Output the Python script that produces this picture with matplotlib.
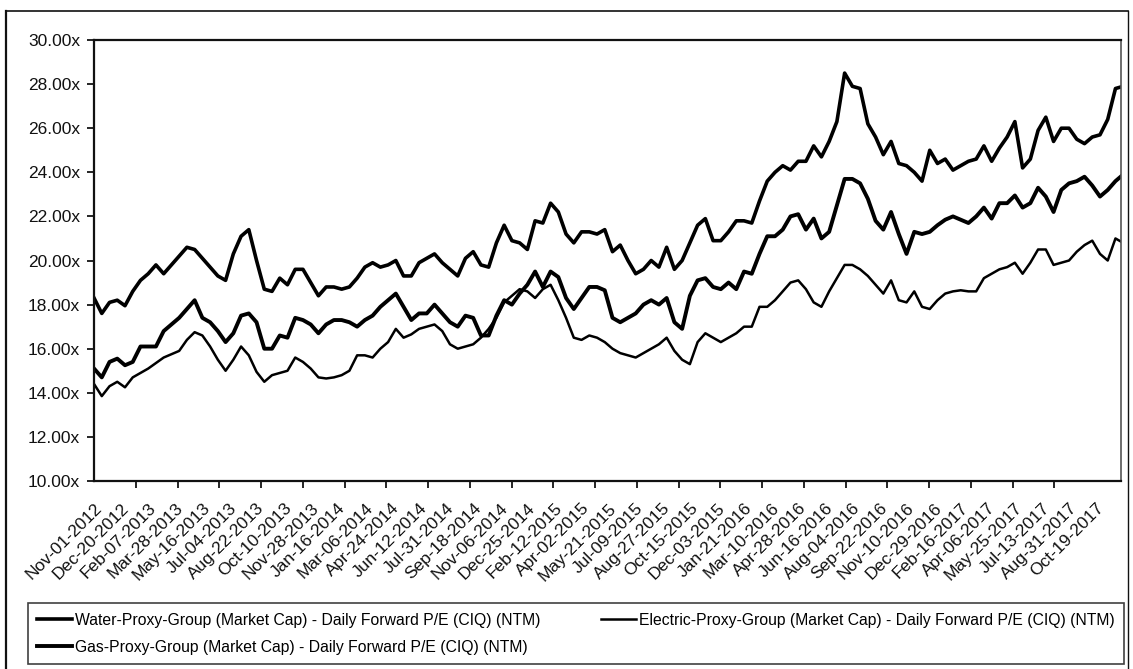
#!/usr/bin/env python3
"""Daily forward P/E (NTM) for the water, electric and gas proxy groups."""

from __future__ import annotations

import matplotlib

matplotlib.use("Agg")
import matplotlib.dates as mdates
import matplotlib.pyplot as plt
import numpy as np
import pandas as pd
from matplotlib.lines import Line2D

# biweekly readings, starting Nov-01-2012
sample_start = "2012-11-01"
sample_step = "14D"

water_pe = [
    18.3, 17.6, 18.1, 18.2, 17.95, 18.6, 19.1, 19.4, 19.8, 19.4,
    19.8, 20.2, 20.6, 20.5, 20.1, 19.7, 19.3, 19.1, 20.3, 21.1,
    21.4, 20.0, 18.7, 18.6, 19.2, 18.9, 19.6, 19.6, 19.0, 18.4,
    18.8, 18.8, 18.7, 18.8, 19.2, 19.7, 19.9, 19.7, 19.8, 20.0,
    19.3, 19.3, 19.9, 20.1, 20.3, 19.9, 19.6, 19.3, 20.1, 20.4,
    19.8, 19.7, 20.8, 21.6, 20.9, 20.8, 20.5, 21.8, 21.7, 22.6,
    22.2, 21.2, 20.8, 21.3, 21.3, 21.2, 21.4, 20.4, 20.7, 20.0,
    19.4, 19.6, 20.0, 19.7, 20.6, 19.6, 20.0, 20.8, 21.6, 21.9,
    20.9, 20.9, 21.3, 21.8, 21.8, 21.7, 22.7, 23.6, 24.0, 24.3,
    24.1, 24.5, 24.5, 25.2, 24.7, 25.4, 26.3, 28.5, 27.9, 27.8,
    26.2, 25.6, 24.8, 25.4, 24.4, 24.3, 24.0, 23.6, 25.0, 24.4,
    24.6, 24.1, 24.3, 24.5, 24.6, 25.2, 24.5, 25.1, 25.6, 26.3,
    24.2, 24.6, 25.9, 26.5, 25.4, 26.0, 26.0, 25.5, 25.3, 25.6,
    25.7, 26.4, 27.8, 27.9,
]

gas_pe = [
    15.1, 14.7, 15.4, 15.55, 15.25, 15.4, 16.1, 16.1, 16.1, 16.8,
    17.1, 17.4, 17.8, 18.2, 17.4, 17.2, 16.8, 16.3, 16.7, 17.5,
    17.6, 17.2, 16.0, 16.0, 16.6, 16.5, 17.4, 17.3, 17.1, 16.7,
    17.1, 17.3, 17.3, 17.2, 17.0, 17.3, 17.5, 17.9, 18.2, 18.5,
    17.9, 17.3, 17.6, 17.6, 18.0, 17.6, 17.2, 17.0, 17.5, 17.4,
    16.6, 16.6, 17.5, 18.2, 18.0, 18.5, 18.9, 19.5, 18.8, 19.5,
    19.25, 18.3, 17.8, 18.3, 18.8, 18.8, 18.65, 17.4, 17.2, 17.4,
    17.6, 18.0, 18.2, 18.0, 18.3, 17.2, 16.9, 18.4, 19.1, 19.2,
    18.8, 18.7, 19.0, 18.7, 19.5, 19.4, 20.3, 21.1, 21.1, 21.4,
    22.0, 22.1, 21.4, 21.9, 21.0, 21.3, 22.5, 23.7, 23.7, 23.5,
    22.8, 21.8, 21.4, 22.2, 21.2, 20.3, 21.3, 21.2, 21.3, 21.6,
    21.85, 22.0, 21.85, 21.7, 22.0, 22.4, 21.9, 22.6, 22.6, 22.95,
    22.4, 22.6, 23.3, 22.9, 22.2, 23.2, 23.5, 23.6, 23.8, 23.4,
    22.9, 23.2, 23.6, 23.9,
]

electric_pe = [
    14.4, 13.85, 14.3, 14.5, 14.25, 14.7, 14.9, 15.1, 15.35, 15.6,
    15.75, 15.9, 16.4, 16.75, 16.6, 16.1, 15.5, 15.0, 15.5, 16.1,
    15.7, 14.95, 14.5, 14.8, 14.9, 15.0, 15.6, 15.4, 15.1, 14.7,
    14.65, 14.7, 14.8, 15.0, 15.7, 15.7, 15.6, 16.0, 16.3, 16.9,
    16.5, 16.65, 16.9, 17.0, 17.1, 16.8, 16.2, 16.0, 16.1, 16.2,
    16.5, 16.9, 17.4, 18.1, 18.4, 18.7, 18.6, 18.3, 18.7, 18.9,
    18.2, 17.4, 16.5, 16.4, 16.6, 16.5, 16.3, 16.0, 15.8, 15.7,
    15.6, 15.8, 16.0, 16.2, 16.5, 15.9, 15.5, 15.3, 16.3, 16.7,
    16.5, 16.3, 16.5, 16.7, 17.0, 17.0, 17.9, 17.9, 18.2, 18.6,
    19.0, 19.1, 18.7, 18.1, 17.9, 18.6, 19.2, 19.8, 19.8, 19.6,
    19.3, 18.9, 18.5, 19.1, 18.2, 18.1, 18.6, 17.9, 17.8, 18.2,
    18.5, 18.6, 18.65, 18.6, 18.6, 19.2, 19.4, 19.6, 19.7, 19.9,
    19.4, 19.9, 20.5, 20.5, 19.8, 19.9, 20.0, 20.4, 20.7, 20.9,
    20.3, 20.0, 21.0, 20.8,
]

tick_labels = [
    "Nov-01-2012", "Dec-20-2012", "Feb-07-2013", "Mar-28-2013", "May-16-2013",
    "Jul-04-2013", "Aug-22-2013", "Oct-10-2013", "Nov-28-2013", "Jan-16-2014",
    "Mar-06-2014", "Apr-24-2014", "Jun-12-2014", "Jul-31-2014", "Sep-18-2014",
    "Nov-06-2014", "Dec-25-2014", "Feb-12-2015", "Apr-02-2015", "May-21-2015",
    "Jul-09-2015", "Aug-27-2015", "Oct-15-2015", "Dec-03-2015", "Jan-21-2016",
    "Mar-10-2016", "Apr-28-2016", "Jun-16-2016", "Aug-04-2016", "Sep-22-2016",
    "Nov-10-2016", "Dec-29-2016", "Feb-16-2017", "Apr-06-2017", "May-25-2017",
    "Jul-13-2017", "Aug-31-2017", "Oct-19-2017",
]

y_ticks = [10, 12, 14, 16, 18, 20, 22, 24, 26, 28, 30]

series_names = [
    "Water-Proxy-Group (Market Cap) - Daily Forward P/E (CIQ) (NTM)",
    "Electric-Proxy-Group (Market Cap) - Daily Forward P/E (CIQ) (NTM)",
    "Gas-Proxy-Group (Market Cap) - Daily Forward P/E (CIQ) (NTM)",
]

FONT = ["Liberation Sans", "DejaVu Sans"]
INK = "#111111"


def main() -> int:
    plt.rcParams["font.family"] = FONT

    dates = pd.date_range(sample_start, periods=len(water_pe), freq=sample_step)
    label_dates = pd.to_datetime(tick_labels, format="%b-%d-%Y")

    fig = plt.figure(figsize=(11.33, 6.69), dpi=100)
    ax = fig.add_axes([0.0830, 0.2810, 0.9064, 0.6592])

    water_line, = ax.plot(dates, water_pe, color="black", linewidth=2.6)
    electric_line, = ax.plot(dates, electric_pe, color="black", linewidth=1.8)
    gas_line, = ax.plot(dates, gas_pe, color="black", linewidth=2.8)

    ax.set_ylim(10, 30)
    ax.set_yticks(y_ticks)
    ax.set_yticklabels([f"{v:.2f}x" for v in y_ticks])
    ax.set_xlim(label_dates[0], label_dates[0] + pd.Timedelta(days=1858))

    # labels every 35 trading days, tick marks on a coarser spacing
    ax.set_xticks(label_dates)
    ax.set_xticklabels(tick_labels, rotation=45, ha="right", va="top",
                       rotation_mode="anchor")
    first = mdates.date2num(label_dates[0])
    last = mdates.date2num(label_dates[-1])
    ax.set_xticks(np.linspace(first, last, 25), minor=True)
    ax.tick_params(axis="x", which="major", length=0, pad=14,
                   labelsize=12.5, labelcolor=INK)
    ax.tick_params(axis="x", which="minor", length=5, width=1.2, direction="out")
    ax.tick_params(axis="y", length=5, width=1.2, labelsize=12.5, labelcolor=INK,
                   pad=5)

    for side in ("left", "bottom", "top"):
        ax.spines[side].set_linewidth(1.6)
        ax.spines[side].set_color(INK)
    ax.spines["right"].set_linewidth(1.2)
    ax.spines["right"].set_color("#555555")

    fig.legend(
        [water_line, gas_line, electric_line],
        [series_names[0], series_names[2], series_names[1]],
        ncol=2,
        loc="lower left",
        bbox_to_anchor=(28 / 1133, 1 - 664 / 669, (1124 - 28) / 1133, 61 / 669),
        mode="expand",
        frameon=True,
        fancybox=False,
        edgecolor=INK,
        fontsize=11.3,
        handlelength=2.2,
        handletextpad=0.2,
        borderaxespad=0,
        labelspacing=0.75,
        borderpad=0.6,
    ).get_frame().set_linewidth(1.2)

    # outer frame of the exhibit
    fig.add_artist(Line2D([6 / 1133, 6 / 1133], [0, 1 - 11 / 669],
                          transform=fig.transFigure, color=INK, linewidth=1.6))
    fig.add_artist(Line2D([6 / 1133, 1128 / 1133], [1 - 11 / 669, 1 - 11 / 669],
                          transform=fig.transFigure, color=INK, linewidth=1.2))
    fig.add_artist(Line2D([1128 / 1133, 1128 / 1133], [0, 1 - 11 / 669],
                          transform=fig.transFigure, color=INK, linewidth=1.0))

    fig.savefig("out.png", dpi=100)
    plt.close(fig)
    return 0


if __name__ == "__main__":
    raise SystemExit(main())
